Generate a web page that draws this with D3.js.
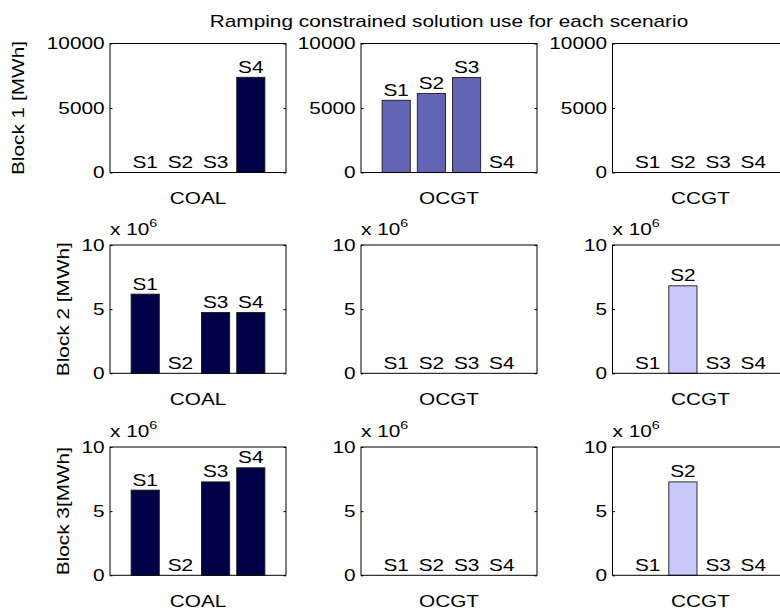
<!DOCTYPE html>
<html>
<head>
<meta charset="utf-8">
<script src="https://cdn.jsdelivr.net/npm/d3@7"></script>
<style>
  html, body { margin: 0; padding: 0; background: #fff; }
  svg { display: block; }
  text { font-family: "Liberation Sans", Arial, Helvetica, sans-serif; fill: #000; }
</style>
</head>
<body>
<script>
// Scenario names shown above each bar
const scenarios = ["S1", "S2", "S3", "S4"];
// Generation technologies (one subplot column each)
const technologies = ["COAL", "OCGT", "CCGT"];
// Row labels
const blockLabels = ["Block 1 [MWh]", "Block 2 [MWh]", "Block 3[MWh]"];

// Energy per scenario, one array per technology, per block
const block1Coal = [0, 0, 0, 7380];
const block1Ocgt = [5600, 6130, 7360, 0];
const block1Ccgt = [0, 0, 0, 0];

const block2Coal = [6.17e6, 0, 4.74e6, 4.74e6];
const block2Ocgt = [0, 0, 0, 0];
const block2Ccgt = [0, 6.82e6, 0, 0];

const block3Coal = [6.64e6, 0, 7.28e6, 8.38e6];
const block3Ocgt = [0, 0, 0, 0];
const block3Ccgt = [0, 7.28e6, 0, 0];

const blockData = [
  [block1Coal, block1Ocgt, block1Ccgt],
  [block2Coal, block2Ocgt, block2Ccgt],
  [block3Coal, block3Ocgt, block3Ccgt]
];

// Axis ranges and tick labels per block
const yMaxima = [10000, 10e6, 10e6];
const yTicks = [[0, 5000, 10000], [0, 5e6, 10e6], [0, 5e6, 10e6]];
const yTickLabels = [["0", "5000", "10000"], ["0", "5", "10"], ["0", "5", "10"]];
const yExponent = [null, "6", "6"];

const techColors = ["#000046", "#6464b4", "#c8c8fa"];

const W = 780, H = 610;
const colLeft = [110, 361, 612.5];
const axW = 176;
const rowTop = [43.5, 245, 447];
const axH = [129, 128.3, 128.3];
const yLabelX = [24, 69, 69];

const FS = 16;       // font size
const SX = 1.3;      // horizontal stretch of the glyphs

const svg = d3.select("body").append("svg")
  .attr("width", W).attr("height", H);

// text helper: glyphs widened along their own baseline
function label(g, x, y, str, anchor, rot, size) {
  return g.append("text")
    .attr("transform", `translate(${x},${y})` + (rot ? ` rotate(${rot})` : "") + ` scale(${SX},1)`)
    .attr("text-anchor", anchor || "middle")
    .style("font-size", (size || FS) + "px")
    .text(str);
}

// figure title above the centre column
label(svg, colLeft[1] + axW / 2, 26.5, "Ramping constrained solution use for each scenario");

blockData.forEach((row, r) => {
  const top = rowTop[r], h = axH[r];
  const y = d3.scaleLinear().domain([0, yMaxima[r]]).range([top + h, top]);

  row.forEach((values, c) => {
    const left = colLeft[c];
    const x = d3.scaleLinear().domain([0, 5]).range([left, left + axW]);
    const g = svg.append("g");

    // bars at positions 1..4, width 0.8
    const bw = x(0.8) - x(0);
    g.selectAll("rect.bar").data(values).join("rect")
      .attr("class", "bar")
      .attr("x", (d, i) => x(i + 1) - bw / 2)
      .attr("width", bw)
      .attr("y", d => y(d))
      .attr("height", d => y(0) - y(d))
      .attr("fill", techColors[c])
      .attr("stroke", "#1a1a1a")
      .attr("stroke-width", 0.9);

    // scenario name above each bar
    values.forEach((v, i) => {
      label(g, x(i + 1), y(v) - 4.5, scenarios[i]);
    });

    // left axis with inward ticks
    const axisL = d3.axisLeft(y)
      .tickValues(yTicks[r])
      .tickFormat((d, i) => yTickLabels[r][i])
      .tickSizeInner(-2.5)
      .tickSizeOuter(0)
      .tickPadding(5.4);
    const ag = g.append("g").attr("transform", `translate(${left},0)`).call(axisL);
    ag.select(".domain").remove();
    ag.selectAll(".tick line").attr("stroke", "#000");
    ag.selectAll(".tick text")
      .attr("transform", `scale(${SX},1)`)
      .attr("x", -5.4 / SX * 1.0)
      .style("font-size", FS + "px")
      .style("font-family", "'Liberation Sans', Arial, sans-serif")
      .attr("fill", "#000");

    // right axis ticks (inward, no labels)
    const axisR = d3.axisRight(y)
      .tickValues(yTicks[r])
      .tickFormat("")
      .tickSizeInner(-2.5)
      .tickSizeOuter(0);
    const rg = g.append("g").attr("transform", `translate(${left + axW},0)`).call(axisR);
    rg.select(".domain").remove();
    rg.selectAll(".tick line").attr("stroke", "#000");

    // axes box
    g.append("rect")
      .attr("x", left).attr("y", top)
      .attr("width", axW).attr("height", h)
      .attr("fill", "none").attr("stroke", "#000").attr("stroke-width", 1);

    // scale factor note
    if (yExponent[r]) {
      const t = g.append("text")
        .attr("transform", `translate(${left},${top - 10}) scale(${SX},1)`)
        .style("font-size", FS + "px");
      t.append("tspan").text("x 10");
      t.append("tspan").attr("dy", -8).style("font-size", "11px").text(yExponent[r]);
    }

    // technology label under the axes
    label(g, left + axW / 2, top + h + 31.5, technologies[c]);

    // block label on the first column
    if (c === 0) {
      label(g, yLabelX[r], top + h / 2, blockLabels[r], "middle", -90);
    }
  });
});
</script>
</body>
</html>
